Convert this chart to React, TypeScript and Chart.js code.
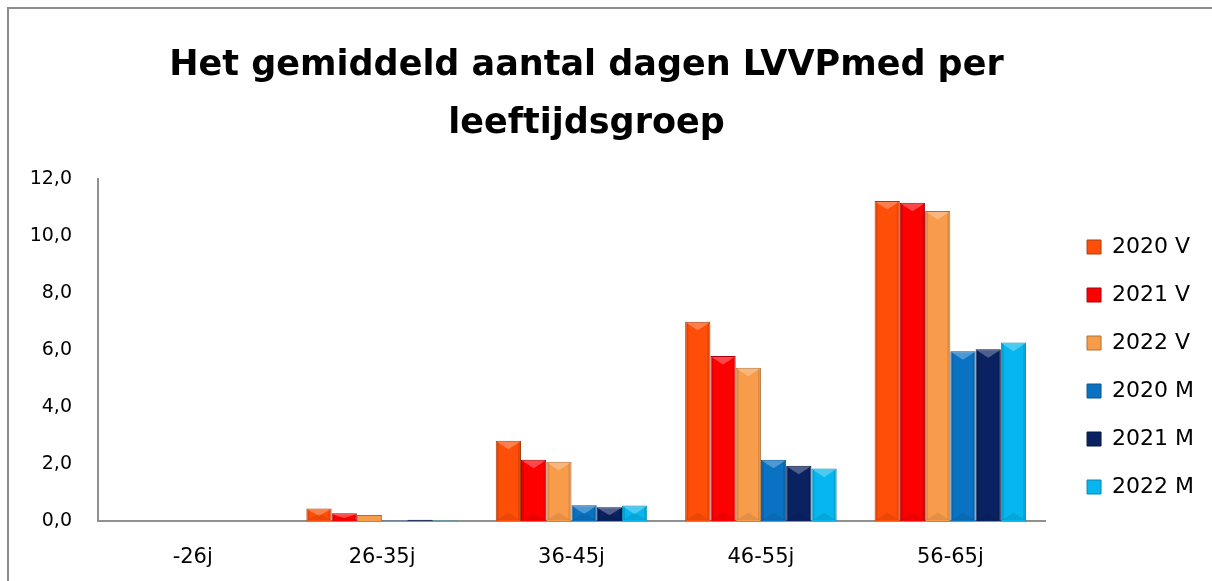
import React, { useEffect, useRef } from "react";
import { Chart, registerables } from "chart.js";

Chart.register(...registerables);

const categories = ["-26j", "26-35j", "36-45j", "46-55j", "56-65j"];
const seriesLabels = ["2020 V", "2021 V", "2022 V", "2020 M", "2021 M", "2022 M"];
const v2020 = [0, 0.44, 2.82, 6.99, 11.23];
const v2021 = [0, 0.27, 2.15, 5.79, 11.17];
const v2022 = [0, 0.21, 2.08, 5.38, 10.88];
const m2020 = [0, 0.02, 0.55, 2.15, 5.96];
const m2021 = [0, 0.04, 0.48, 1.94, 6.03];
const m2022 = [0, 0.02, 0.54, 1.84, 6.26];
const yTicks = [0, 2, 4, 6, 8, 10, 12];
const titleLines = ["Het gemiddeld aantal dagen LVVPmed per", "leeftijdsgroep"];

const colors = ["#FF4E08", "#FF0000", "#F89C4C", "#0A72C2", "#0A2262", "#06B6EE"];
const borders = ["#A8400E", "#A80010", "#B07034", "#0A5590", "#061640", "#0A88B0"];

const FONT = "'DejaVu Sans', sans-serif";

const bevelPlugin = {
  id: "bevel",
  afterDatasetsDraw(chart: any) {
    const ctx = chart.ctx;
    chart.data.datasets.forEach((_: any, di: number) => {
      const meta = chart.getDatasetMeta(di);
      meta.data.forEach((bar: any) => {
        const { x, y, base, width } = bar.getProps(["x", "y", "base", "width"], true);
        const h = base - y;
        if (h < 6) return;
        const l = x - width / 2 + 1;
        const r = x + width / 2 - 1;
        const d = Math.min(width * 0.3, h / 2);
        ctx.save();
        ctx.fillStyle = "rgba(255,255,255,0.28)";
        ctx.beginPath();
        ctx.moveTo(l, y + 1);
        ctx.lineTo(r, y + 1);
        ctx.lineTo(x, y + 1 + d);
        ctx.closePath();
        ctx.fill();
        ctx.fillStyle = "rgba(0,0,0,0.10)";
        ctx.fillRect(l, y + 1, 2, h - 2);
        ctx.fillRect(r - 2, y + 1, 2, h - 2);
        ctx.fillStyle = "rgba(0,0,0,0.08)";
        ctx.beginPath();
        ctx.moveTo(l, base - 1);
        ctx.lineTo(r, base - 1);
        ctx.lineTo(x, base - 1 - d);
        ctx.closePath();
        ctx.fill();
        ctx.restore();
      });
    });
  },
};

const shiftPlugin = {
  id: "shiftBoxes",
  afterLayout(chart: any) {
    if (chart.legend) {
      chart.legend.left += 16;
      chart.legend.right += 16;
      chart.legend.top += 64;
      chart.legend.bottom += 64;
    }
    if (chart.titleBlock) {
      chart.titleBlock.left -= 12.5;
      chart.titleBlock.right -= 12.5;
    }
  },
};

export default function App() {
  const ref = useRef<HTMLCanvasElement | null>(null);
  useEffect(() => {
    document.body.style.margin = "0";
    const values = [v2020, v2021, v2022, m2020, m2021, m2022];
    const chart = new Chart(ref.current!, {
      type: "bar",
      data: {
        labels: categories,
        datasets: values.map((d, i) => ({
          label: seriesLabels[i],
          data: d,
          backgroundColor: colors[i],
          borderColor: borders[i],
          borderWidth: 1,
          categoryPercentage: 0.8,
          barPercentage: 1.0,
        })),
      },
      plugins: [bevelPlugin, shiftPlugin],
      options: {
        animation: false,
        responsive: false,
        maintainAspectRatio: false,
        layout: { padding: { left: 10, right: 24, top: 37, bottom: 12 } },
        plugins: {
          title: {
            display: true,
            text: titleLines,
            color: "#000",
            font: { family: FONT, size: 35, weight: "bold", lineHeight: 1.657 },
            padding: { top: 0, bottom: 26 },
          },
          legend: {
            position: "right",
            labels: {
              color: "#000",
              boxWidth: 14,
              boxHeight: 14,
              padding: 26,
              font: { family: FONT, size: 22 },
            },
          },
          tooltip: { enabled: false },
        },
        scales: {
          x: {
            grid: { display: false, drawTicks: false },
            border: { color: "#909090", width: 2 },
            afterFit: (s: any) => {
              s.height = 48;
            },
            ticks: {
              color: "#000",
              padding: 24,
              font: { family: FONT, size: 21 },
            },
          },
          y: {
            min: 0,
            max: 12,
            afterBuildTicks: (s: any) => {
              s.ticks = yTicks.map((v) => ({ value: v }));
            },
            afterFit: (s: any) => {
              s.width = 88;
            },
            grid: { display: false, drawTicks: false },
            border: { color: "#909090", width: 2 },
            ticks: {
              color: "#000",
              padding: 26,
              font: { family: FONT, size: 19 },
              callback: (v: any) => Number(v).toFixed(1).replace(".", ","),
            },
          },
        },
      },
    });
    return () => chart.destroy();
  }, []);
  return (
    <div style={{ position: "relative", width: 1212, height: 581, overflow: "hidden", background: "#fff" }}>
      <div
        style={{
          position: "absolute",
          left: 7,
          top: 7,
          width: 1300,
          height: 700,
          border: "2px solid #8c8c8c",
          boxSizing: "border-box",
        }}
      />
      <canvas ref={ref} width={1212} height={581} style={{ position: "absolute", left: 0, top: 0 }} />
    </div>
  );
}
